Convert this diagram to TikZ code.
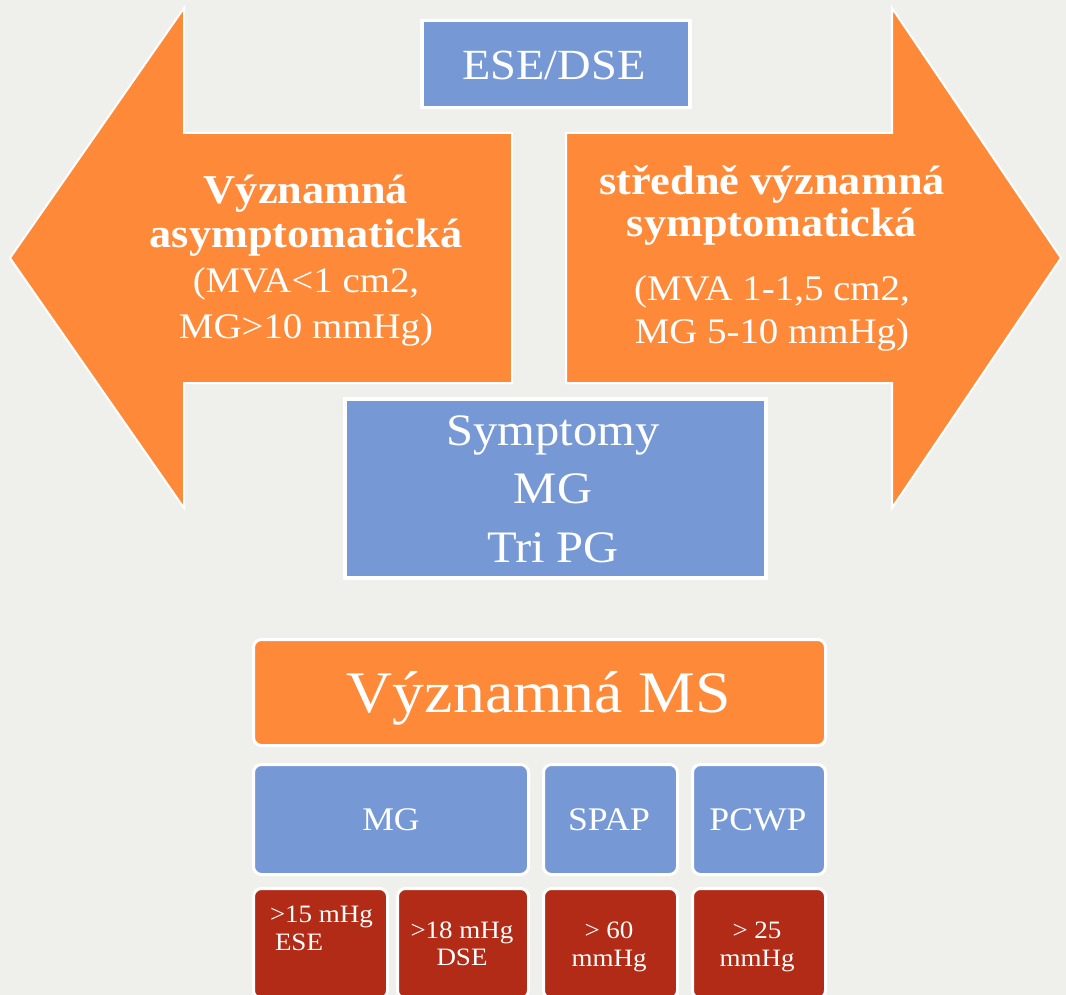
\documentclass[tikz,border=0pt]{standalone}
\usepackage{fontspec}
\setmainfont{Liberation Serif}[FakeStretch=1.08]
\definecolor{bgc}{HTML}{EFEFEC}
\definecolor{aorange}{HTML}{FE8A39}
\definecolor{bblue}{HTML}{7699D6}
\definecolor{rred}{HTML}{B22B17}
\tikzset{
  arrowshape/.style={draw=white, line width=2, fill=aorange, line join=miter},
  bluebox/.style={draw=white, line width=3.5, fill=bblue, anchor=north west, inner sep=0},
  rbox/.style={draw=white, line width=3, rounded corners=8, anchor=north west, inner sep=0},
  wtxt/.style={text=white, anchor=base, inner sep=0, outer sep=0},
}
\begin{document}
\begin{tikzpicture}[x=1pt,y=-1pt]
\useasboundingbox (0,0) rectangle (1066,995);
\clip (0,0) rectangle (1066,995);
\fill[bgc] (0,0) rectangle (1066,995);

% arrows
\path[arrowshape] (10,258) -- (184,8) -- (184,133) -- (512,133) -- (512,383) -- (184,383) -- (184,508) -- cycle;
\path[arrowshape] (1061,258) -- (892,8) -- (892,133) -- (566,133) -- (566,383) -- (892,383) -- (892,508) -- cycle;

% blue boxes
\node[bluebox, minimum width=268, minimum height=87] (ese) at (420,19) {};
\node[bluebox, minimum width=421, minimum height=179] (sym) at (343,397) {};

% bottom table
\node[rbox, fill=aorange, minimum width=572, minimum height=106] (ms) at (252,638) {};
\node[rbox, fill=bblue, minimum width=275, minimum height=110] (mg) at (252,763) {};
\node[rbox, fill=bblue, minimum width=134, minimum height=110] (spap) at (542,763) {};
\node[rbox, fill=bblue, minimum width=133, minimum height=110] (pcwp) at (691,763) {};
\node[rbox, fill=rred, minimum width=134, minimum height=110] (r1) at (252,887) {};
\node[rbox, fill=rred, minimum width=131, minimum height=110] (r2) at (396,887) {};
\node[rbox, fill=rred, minimum width=134, minimum height=110] (r3) at (542,887) {};
\node[rbox, fill=rred, minimum width=133, minimum height=110] (r4) at (691,887) {};

% texts
\node[wtxt, font=\fontsize{43}{50}\selectfont] (tese) at (554,80) {ESE/DSE};

\node[wtxt, font=\bfseries\fontsize{41}{48}\selectfont] (l1) at (306,204) {Významná};
\node[wtxt, font=\bfseries\fontsize{41}{48}\selectfont] (l2) at (306,248) {asymptomatická};
\node[wtxt, font=\fontsize{36}{44}\selectfont] (l3) at (306,293) {(MVA<1 cm2,};
\node[wtxt, font=\fontsize{36}{44}\selectfont] (l4) at (306,338) {MG>10 mmHg)};

\node[wtxt, font=\bfseries\fontsize{41}{48}\selectfont] (r1t) at (772,195) {středně významná};
\node[wtxt, font=\bfseries\fontsize{41}{48}\selectfont] (r2t) at (772,237) {symptomatická};
\node[wtxt, font=\fontsize{36}{44}\selectfont] (r3t) at (772,300) {(MVA 1-1,5 cm2,};
\node[wtxt, font=\fontsize{36}{44}\selectfont] (r4t) at (772,343) {MG 5-10 mmHg)};

\node[wtxt, font=\fontsize{45}{50}\selectfont] (s1) at (553,445) {Symptomy};
\node[wtxt, font=\fontsize{45}{50}\selectfont] (s2) at (553,503) {MG};
\node[wtxt, font=\fontsize{45}{50}\selectfont] (s3) at (553,562) {Tri PG};

\node[wtxt, font=\fontsize{59}{66}\selectfont] (tms) at (539,712) {Významná MS};

\node[wtxt, font=\fontsize{33}{40}\selectfont] (tmg) at (391,830) {MG};
\node[wtxt, font=\fontsize{33}{40}\selectfont] (tspap) at (609,830) {SPAP};
\node[wtxt, font=\fontsize{33}{40}\selectfont] (tpcwp) at (758,830) {PCWP};

\node[wtxt, anchor=base west, font=\fontsize{25}{30}\selectfont] (a1) at (270,922) {>15 mHg};
\node[wtxt, anchor=base west, font=\fontsize{25}{30}\selectfont] (a2) at (275,950) {ESE};
\node[wtxt, font=\fontsize{25}{30}\selectfont] (b1) at (462,938) {>18 mHg};
\node[wtxt, font=\fontsize{25}{30}\selectfont] (b2) at (462,965) {DSE};
\node[wtxt, font=\fontsize{25}{30}\selectfont] (c1) at (609,938) {> 60};
\node[wtxt, font=\fontsize{25}{30}\selectfont] (c2) at (609,966) {mmHg};
\node[wtxt, font=\fontsize{25}{30}\selectfont] (d1) at (757,938) {> 25};
\node[wtxt, font=\fontsize{25}{30}\selectfont] (d2) at (757,966) {mmHg};
\end{tikzpicture}
\end{document}
